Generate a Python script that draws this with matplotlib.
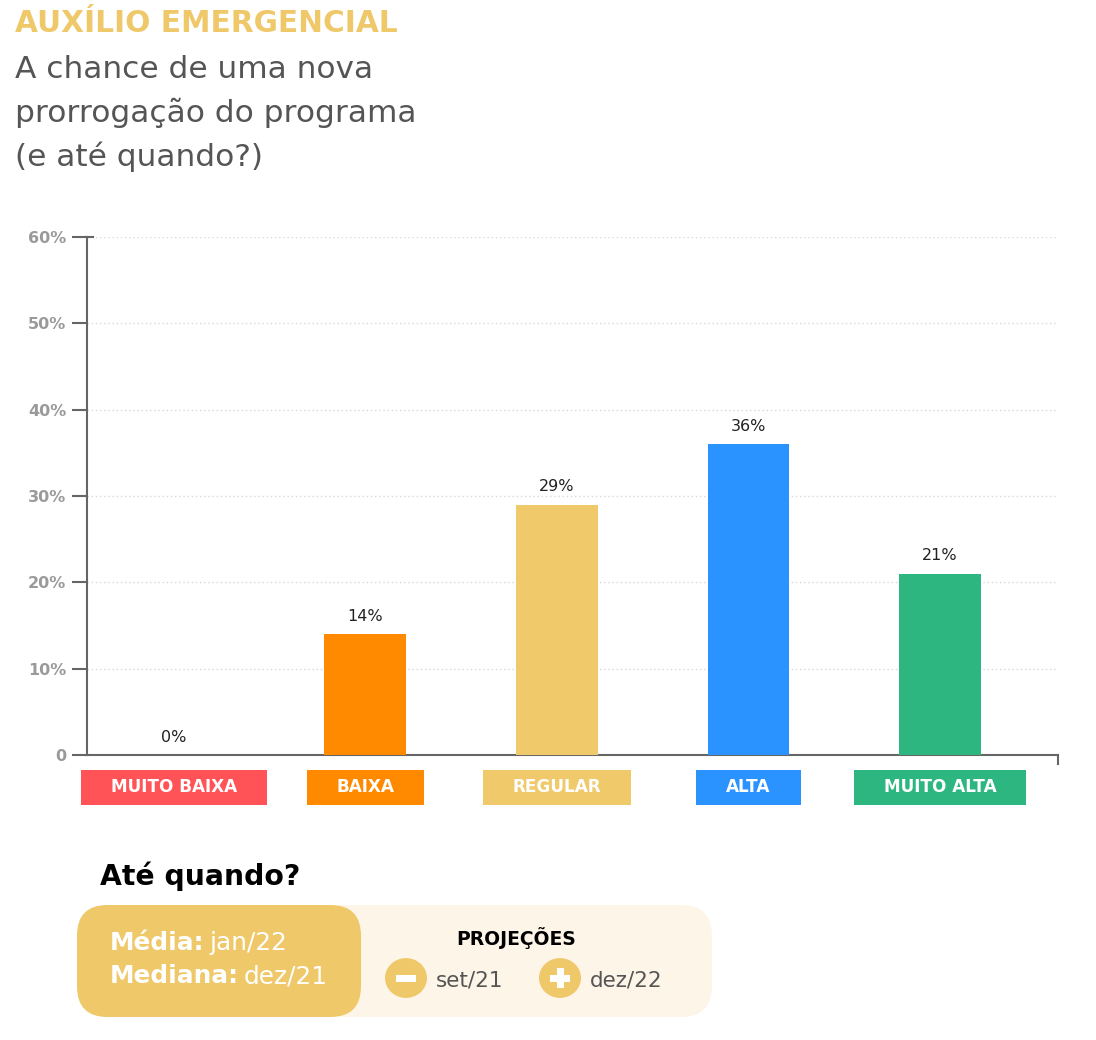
import matplotlib
matplotlib.use("Agg")
import matplotlib.pyplot as plt
import numpy as np
from matplotlib.patches import Rectangle, FancyBboxPatch, Circle

# ---- data ----
categories = ["MUITO BAIXA", "BAIXA", "REGULAR", "ALTA", "MUITO ALTA"]
values = [0, 14, 29, 36, 21]
value_labels = ["0%", "14%", "29%", "36%", "21%"]
yticks = [0, 10, 20, 30, 40, 50, 60]
ytick_labels = ["0", "10%", "20%", "30%", "40%", "50%", "60%"]
title = "AUXÍLIO EMERGENCIAL"
subtitle_lines = ["A chance de uma nova", "prorrogação do programa", "(e até quando?)"]
question = "Até quando?"
media = ("Média:", "jan/22")
mediana = ("Mediana:", "dez/21")
proj_title = "PROJEÇÕES"
proj_min = "set/21"
proj_max = "dez/22"

colors = ["#FF5358", "#FF8A00", "#F0CA6A", "#2A93FF", "#2DB67F"]
GOLD = "#EFC86A"
CREAM = "#FDF6E8"
AXC = "#666666"

W, H = 1096, 1040
fig = plt.figure(figsize=(W / 100, H / 100), dpi=100)
fig.patch.set_facecolor("white")
plt.rcParams["font.family"] = ["DejaVu Sans"]

def fx(px):
    return px / W

def fy(py):
    return 1 - py / H

# ---- axes ----
ax = fig.add_axes([fx(87), fy(755), fx(1058) - fx(87), (755 - 237) / H])
ax.set_zorder(3)
ax.patch.set_alpha(0)
x = np.arange(len(categories))
ax.bar(x, values, width=0.428, color=colors, zorder=3)
ax.set_xlim(-0.454, 4.616)
ax.set_ylim(0, 60)
ax.set_yticks(yticks)
ax.set_yticklabels(ytick_labels, fontsize=11.5, fontweight="bold", color="#9A9A9A")
ax.tick_params(axis="y", direction="out", length=11, width=1.5, color=AXC, pad=4)
ax.set_xticks([])
for s in ["top", "right"]:
    ax.spines[s].set_visible(False)
ax.spines["left"].set_color(AXC)
ax.spines["left"].set_linewidth(1.5)
ax.spines["bottom"].set_color(AXC)
ax.spines["bottom"].set_linewidth(1.5)
for t in yticks[1:]:
    ax.axhline(t, color="#D8D8D8", lw=1, ls=(0, (1, 2)), zorder=1)
ax.plot([1, 1], [0, -0.018], transform=ax.transAxes, color=AXC, lw=1.5, clip_on=False)
ax.plot([0, 0.006], [1, 1], transform=ax.transAxes, color=AXC, lw=1.5, clip_on=False)

for xi, v, lab in zip(x, values, value_labels):
    ax.text(xi, v + 1.2, lab, ha="center", va="bottom", fontsize=11.5, color="#222222")

label_texts = []
for xi, cat in zip(x, categories):
    t = ax.text(xi, -3.75, cat, ha="center", va="center", fontsize=12.2,
                fontweight="bold", color="white", zorder=5, clip_on=False)
    label_texts.append(t)

# ---- titles ----
fig.text(fx(15), fy(23), title, fontsize=21.3, fontweight="bold", color=GOLD,
         ha="left", va="center")
for ypx, line in zip([70, 113, 157], subtitle_lines):
    fig.text(fx(15), fy(ypx), line, fontsize=22.5, color="#555555", ha="left",
             va="center")

fig.text(fx(100), fy(876), question, fontsize=20.3, fontweight="bold", color="black",
         ha="left", va="center")

# ---- bottom box ----
outer = FancyBboxPatch((fx(77), fy(1017)), fx(712) - fx(77), (1017 - 905) / H,
                       boxstyle="round,pad=0,rounding_size=0.028",
                       transform=fig.transFigure, fc=CREAM, ec="none",
                       mutation_aspect=W / H)
fig.patches.append(outer)
inner = FancyBboxPatch((fx(77), fy(1017)), fx(361) - fx(77), (1017 - 905) / H,
                       boxstyle="round,pad=0,rounding_size=0.028",
                       transform=fig.transFigure, fc=GOLD, ec="none",
                       mutation_aspect=W / H)
fig.patches.append(inner)

fig.canvas.draw()
renderer = fig.canvas.get_renderer()

def rich(xpx, ypx, bold, reg, size, color):
    t1 = fig.text(fx(xpx), fy(ypx), bold, fontsize=size, fontweight="bold",
                  color=color, ha="left", va="center")
    bb = t1.get_window_extent(renderer)
    fig.text(bb.x1 / W + fx(5), fy(ypx), reg, fontsize=size, color=color,
             ha="left", va="center")

rich(110, 943, media[0], media[1], 17.8, "white")
rich(110, 976, mediana[0], mediana[1], 17.8, "white")

fig.text(fx(516), fy(938), proj_title, fontsize=13.5, fontweight="bold", color="black",
         ha="center", va="center")

for cxp, txt, sym in [(406, proj_min, "minus"), (560, proj_max, "plus")]:
    c = Circle((fx(cxp), fy(978)), 21 / W, transform=fig.transFigure, fc=GOLD, ec="none")
    fig.patches.append(c)
    fig.patches.append(Rectangle((fx(cxp - 10), fy(978 + 3.5)), 20 / W, 7 / H,
                                 transform=fig.transFigure, fc="white", ec="none"))
    if sym == "plus":
        fig.patches.append(Rectangle((fx(cxp - 3.5), fy(978 + 10)), 7 / W, 20 / H,
                                     transform=fig.transFigure, fc="white", ec="none"))
    fig.text(fx(cxp + 30), fy(980), txt, fontsize=15.5, color="#555555",
             ha="left", va="center")

fig.canvas.draw()
for t, col in zip(label_texts, colors):
    bb = t.get_window_extent(renderer)
    cy = (bb.y0 + bb.y1) / 2
    padx = 30
    rect = Rectangle(((bb.x0 - padx) / W, (cy - 17.5) / H), (bb.width + 2 * padx) / W,
                     35 / H, transform=fig.transFigure, fc=col, ec="none", zorder=0)
    fig.patches.append(rect)

fig.savefig("out.png", dpi=100, facecolor="white")
